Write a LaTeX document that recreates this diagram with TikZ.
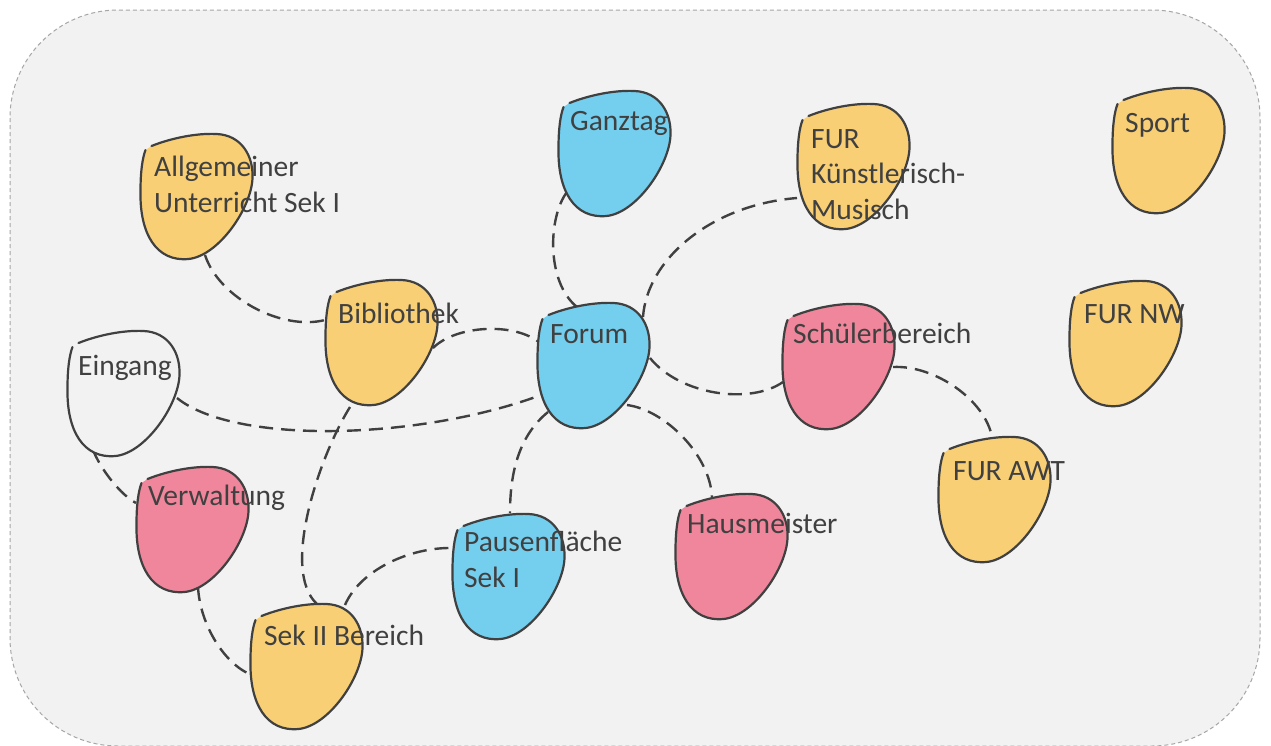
\documentclass[tikz,border=0pt]{standalone}
\usepackage{fontspec}
\setmainfont{Carlito}
\definecolor{pageBg}{HTML}{F2F2F2}
\definecolor{frameGray}{HTML}{A6A6A6}
\definecolor{lineGray}{HTML}{404040}
\definecolor{textGray}{HTML}{404040}
\definecolor{bYellow}{HTML}{F8CF75}
\definecolor{bBlue}{HTML}{74CEEE}
\definecolor{bPink}{HTML}{F0869B}
\tikzset{
  blob/.pic={
    \fill[#1] (-45,-50) .. controls (-25,-58) and (0,-63) .. (20,-62)
      .. controls (45,-61) and (57,-40) .. (56,-18)
      .. controls (55,12) and (22,60) .. (-8,63)
      .. controls (-40,66) and (-57,38) .. (-56,-5)
      .. controls (-56,-25) and (-54,-38) .. (-51,-46) -- cycle;
    \draw[outline] (-45,-50) .. controls (-25,-58) and (0,-63) .. (20,-62)
      .. controls (45,-61) and (57,-40) .. (56,-18)
      .. controls (55,12) and (22,60) .. (-8,63)
      .. controls (-40,66) and (-57,38) .. (-56,-5)
      .. controls (-56,-25) and (-54,-38) .. (-51,-46);
  }
}
\begin{document}
\begin{tikzpicture}[x=1pt,y=-1pt,
  link/.style={draw=lineGray, line width=2.4pt, dash pattern=on 14pt off 8pt},
  outline/.style={draw=lineGray, line width=2.2pt, line cap=round},
  hub/.style={inner sep=0pt, minimum width=113pt, minimum height=126pt},
  lbl/.style={anchor=base west, inner sep=0pt, text=textGray,
    font=\fontsize{29.5}{35.5}\selectfont, align=left}]
\useasboundingbox (0,0) rectangle (1271,745);
\fill[white] (0,0) rectangle (1271,745);
% frame of the whole site
\draw[fill=pageBg, draw=frameGray, line width=1pt, dash pattern=on 4pt off 3pt,
  rounded corners=108pt] (10,10) rectangle (1260,746);

% area anchors
\node[hub] (allg)  at (196.5,196) {};
\node[hub] (ganz)  at (614.5,153) {};
\node[hub] (furk)  at (853.5,166) {};
\node[hub] (sport) at (1168.5,150) {};
\node[hub] (bib)   at (381.5,342) {};
\node[hub] (forum) at (593.5,365) {};
\node[hub] (schul) at (838.5,366) {};
\node[hub] (furnw) at (1125.5,343) {};
\node[hub] (eing)  at (123.5,393) {};
\node[hub] (awt)   at (994.5,499) {};
\node[hub] (verw)  at (192.5,529) {};
\node[hub] (pause) at (508.5,576) {};
\node[hub] (haus)  at (731.5,556) {};
\node[hub] (sek2)  at (306.5,666) {};

% paths between areas
\draw[link] ([shift={(8.5,59)}]allg.center) .. controls +(14,43) and +(-43,11) .. ([shift={(-56.5,-22)}]bib.center);
\draw[link] ([shift={(-47.5,39)}]ganz.center) .. controls +(-19,25) and +(-31,-25) .. ([shift={(-16.5,-58)}]forum.center);
\draw[link] ([shift={(49.5,-48)}]forum.center) .. controls +(4,-57) and +(-87,7) .. ([shift={(-56.5,32)}]furk.center);
\draw[link] ([shift={(51.5,6)}]bib.center) .. controls +(23,-23) and +(-25,-21) .. ([shift={(-53.5,-22)}]forum.center);
\draw[link] ([shift={(53.5,5)}]eing.center) .. controls +(58,47) and +(-121,45) .. ([shift={(-52.5,30)}]forum.center);
\draw[link] ([shift={(56.5,-7)}]forum.center) .. controls +(30,37) and +(-33,23) .. ([shift={(-55.5,16)}]schul.center);
\draw[link] ([shift={(54.5,1)}]schul.center) .. controls +(42,-2) and +(-7,-37) .. ([shift={(-2.5,-62)}]awt.center);
\draw[link] ([shift={(-45.5,47)}]forum.center) .. controls +(-28,23) and +(0,-43) .. ([shift={(1.5,-63)}]pause.center);
\draw[link] ([shift={(33.5,40)}]forum.center) .. controls +(38,5) and +(-2,-42) .. ([shift={(-19.5,-59)}]haus.center);
\draw[link] ([shift={(-31.5,65)}]bib.center) .. controls +(-30,48) and +(-37,-34) .. ([shift={(10.5,-62)}]sek2.center);
\draw[link] ([shift={(-30.5,57)}]eing.center) .. controls +(8,20) and +(-15,-8) .. ([shift={(-56.5,-26)}]verw.center);
\draw[link] ([shift={(5.5,58)}]verw.center) .. controls +(2,38) and +(-27,-10) .. ([shift={(-54.5,9)}]sek2.center);
\draw[link] ([shift={(38.5,-61)}]sek2.center) .. controls +(15,-35) and +(-43,-1) .. ([shift={(-55.5,-28)}]pause.center);

% area shapes
\pic at (allg.center)  {blob=bYellow};
\pic at (ganz.center)  {blob=bBlue};
\pic at (furk.center)  {blob=bYellow};
\pic at (sport.center) {blob=bYellow};
\pic at (bib.center)   {blob=bYellow};
\pic at (forum.center) {blob=bBlue};
\pic at (schul.center) {blob=bPink};
\pic at (furnw.center) {blob=bYellow};
\pic at (eing.center)  {blob=pageBg};
\pic at (awt.center)   {blob=bYellow};
\pic at (verw.center)  {blob=bPink};
\pic at (pause.center) {blob=bBlue};
\pic at (haus.center)  {blob=bPink};
\pic at (sek2.center)  {blob=bYellow};

% area names (multi-line labels sit on the baseline of their last line)
\node[lbl] (allg-t)  at (154,212)  {Allgemeiner\\Unterricht Sek I};
\node[lbl] (ganz-t)  at (570,130)  {Ganztag};
\node[lbl] (furk-t)  at (811,219)  {FUR\\Künstlerisch-\\Musisch};
\node[lbl] (sport-t) at (1125,132) {Sport};
\node[lbl] (bib-t)   at (338,323)  {Bibliothek};
\node[lbl] (forum-t) at (550,343)  {Forum};
\node[lbl] (schul-t) at (793,343)  {Schülerbereich};
\node[lbl] (furnw-t) at (1084,323) {FUR NW};
\node[lbl] (eing-t)  at (78,375)   {Eingang};
\node[lbl] (awt-t)   at (953,480)  {FUR AWT};
\node[lbl] (verw-t)  at (148,505)  {Verwaltung};
\node[lbl] (pause-t) at (464,587)  {Pausenfläche\\Sek I};
\node[lbl] (haus-t)  at (687,533)  {Hausmeister};
\node[lbl] (sek2-t)  at (264,645)  {Sek II Bereich};
\end{tikzpicture}
\end{document}
